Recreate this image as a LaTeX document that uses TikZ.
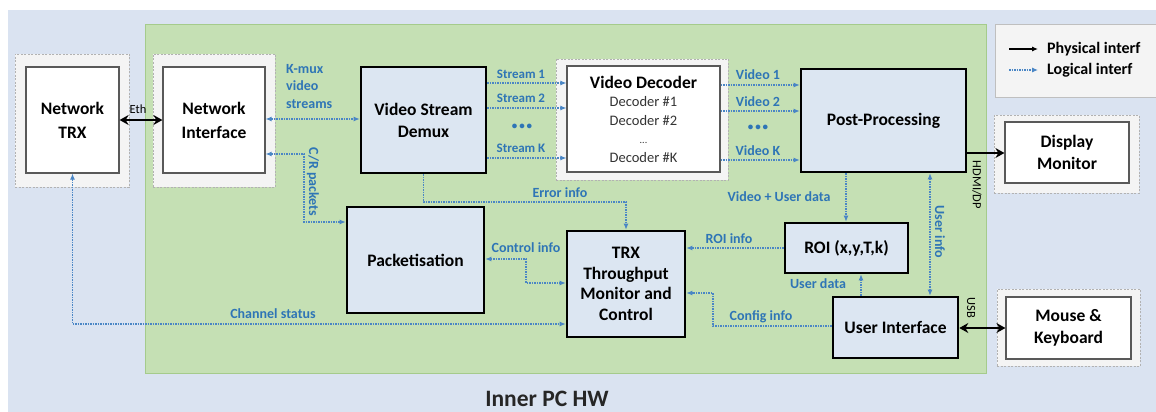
\documentclass[tikz,border=0pt]{standalone}
\usepackage{fontspec}
\setmainfont{Carlito}
\usetikzlibrary{arrows.meta}
\definecolor{bgblue}{HTML}{DAE3F1}
\definecolor{grn}{HTML}{C5E0B4}
\definecolor{grnline}{HTML}{A5CB8C}
\definecolor{boxblue}{HTML}{DCE6F2}
\definecolor{lblue}{HTML}{2E75B6}
\definecolor{ablue}{HTML}{4A86C5}
\definecolor{outerfill}{HTML}{F4F4F4}
\newcommand\bxfont{\fontsize{17.5}{22}\selectfont\bfseries}
\newcommand\lbfont{\fontsize{14}{17.5}\selectfont\bfseries}
\begin{document}
\begin{tikzpicture}[x=1pt,y=-1pt,
  outerbox/.style={draw=black!30, dash pattern=on 2pt off 1.5pt, fill=outerfill, line width=0.8pt, inner sep=0},
  innerbox/.style={draw=black!65, fill=white, line width=1.2pt, inner sep=0, align=center, font=\bxfont},
  thickbox/.style={draw=black, fill=boxblue, line width=2.6pt, inner sep=0, align=center, font=\bxfont},
  logic/.style={draw=ablue, line width=1.1pt, dash pattern=on 1.5pt off 1pt},
  phys/.style={draw=black, line width=2.6pt},
  lbl/.style={text=lblue, font=\lbfont, inner sep=0, align=left},
  dots/.style={text=lblue, font=\fontsize{11}{13}\selectfont\bfseries, inner sep=0},
  blk/.style={text=black, font=\fontsize{12.5}{14}\selectfont, inner sep=0}
]
\useasboundingbox (0,0) rectangle (1156,412);
\fill[white] (0,0) rectangle (1156,412);
\fill[bgblue] (8,10) rectangle (1156,412);
\draw[grnline, fill=grn, line width=0.8pt] (145,24) rectangle (986,373);

% legend
\node[draw=black!25, fill=outerfill, line width=0.8pt, minimum width=167pt, minimum height=73pt, inner sep=0] (legend) at (1078.5,60.5) {};
\coordinate (pa) at (1009,49);
\coordinate (pb) at (1038,49);
\coordinate (la) at (1009,70);
\coordinate (lb) at (1038,70);
\draw[line width=1.1pt, -{Latex[length=6pt,width=5pt]}] (pa) -- (pb);
\draw[logic, -{Latex[length=6pt,width=5pt]}] (la) -- (lb);
\node[anchor=west, font=\fontsize{16}{18}\selectfont\bfseries, inner sep=0] (lphys) at (1047,49) {Physical interf};
\node[anchor=west, font=\fontsize{16}{18}\selectfont\bfseries, inner sep=0] (llog) at (1047,70) {Logical interf};

% outer dashed boxes
\node[outerbox, minimum width=114pt, minimum height=133pt] (trxout) at (72,120.5) {};
\node[outerbox, minimum width=122pt, minimum height=133pt] (niout) at (214,120.5) {};
\node[outerbox, minimum width=172pt, minimum height=121pt] (vdout) at (642,119.5) {};
\node[outerbox, minimum width=145pt, minimum height=78pt] (dispout) at (1066.5,154) {};
\node[outerbox, minimum width=143pt, minimum height=77pt] (mkout) at (1068.5,327.5) {};

% inner white boxes
\node[innerbox, minimum width=93pt, minimum height=106pt, font=\fontsize{17.5}{24}\selectfont\bfseries] (trxin) at (72.5,120) {Network\\TRX};
\node[innerbox, minimum width=102pt, minimum height=106pt, font=\fontsize{17.5}{24}\selectfont\bfseries] (niin) at (214,120) {Network\\Interface};
\node[innerbox, minimum width=153pt, minimum height=106pt, font=\fontsize{14.5}{18.5}\selectfont, text=black!80] (vdin) at (643.5,119)
  {{\fontsize{17.5}{18.5}\selectfont\bfseries\color{black}Video Decoder}\\Decoder \#1\\Decoder \#2\\{\fontsize{10}{18.5}\selectfont ...}\\Decoder \#K};
\node[innerbox, minimum width=124pt, minimum height=61pt] (dispin) at (1067,152.5) {Display\\Monitor};
\node[innerbox, minimum width=125pt, minimum height=62pt] (mkin) at (1068.5,328) {Mouse \&\\Keyboard};

% thick blue boxes
\node[thickbox, minimum width=125pt, minimum height=106pt] (demux) at (423.5,120) {Video Stream\\Demux};
\node[thickbox, minimum width=165pt, minimum height=103pt] (pp) at (883.5,120.5) {Post-Processing};
\node[thickbox, minimum width=123pt, minimum height=50pt] (roi) at (846.5,248) {ROI (x,y,T,k)};
\node[thickbox, minimum width=125pt, minimum height=61pt] (ui) at (895.5,327.5) {User Interface};
\node[thickbox, minimum width=118pt, minimum height=106pt, font=\fontsize{17.5}{20.5}\selectfont\bfseries] (trx) at (626,284) {TRX\\Throughput\\Monitor and\\Control};
\node[thickbox, minimum width=137pt, minimum height=106pt] (pack) at (415.5,260) {Packetisation};

% physical connectors
\draw[phys, {Stealth[length=9pt,width=10pt]}-{Stealth[length=9pt,width=10pt]}] (trxin.east) -- (niin.west);
\draw[phys, -{Stealth[length=9pt,width=10pt]}] (pp.east |- 0,153) -- (dispin.west |- 0,153);
\draw[phys, {Stealth[length=9pt,width=10pt]}-{Stealth[length=9pt,width=10pt]}] (ui.east |- 0,328) -- (mkin.west |- 0,328);
\node[blk] (eth) at (138,109) {Eth};
\node[blk, rotate=-90] (hdmi) at (977,185) {HDMI/DP};
\node[blk, rotate=-90] (usb) at (971,308) {USB};

% logical connectors
\draw[logic, {Latex[length=6pt,width=5pt]}-{Latex[length=6pt,width=5pt]}] (niin.east |- 0,119) -- (demux.west |- 0,119);
\node[lbl, anchor=north west] (kmux) at (286,64) {K-mux\\video\\streams};

\draw[logic, {Latex[length=6pt,width=5pt]}-{Latex[length=6pt,width=5pt]}] (niin.east |- 0,154) -- (304,154) |- (pack.west |- 0,222);
\node[lbl, rotate=-90] (cr) at (313,182) {C/R packets};

\draw[logic, -{Latex[length=6pt,width=5pt]}] (demux.east |- 0,83) -- (vdin.west |- 0,83);
\draw[logic, -{Latex[length=6pt,width=5pt]}] (demux.east |- 0,108) -- (vdin.west |- 0,108);
\draw[logic, -{Latex[length=6pt,width=5pt]}] (demux.east |- 0,158) -- (vdin.west |- 0,158);
\node[lbl, font=\fontsize{13}{15}\selectfont\bfseries] (s1) at (521,74) {Stream 1};
\node[lbl, font=\fontsize{13}{15}\selectfont\bfseries] (s2) at (521,98) {Stream 2};
\node[dots] (sdots) at (522,127) {•\,•\,•};
\node[lbl, font=\fontsize{13}{15}\selectfont\bfseries] (sk) at (521,148) {Stream K};

\draw[logic, -{Latex[length=6pt,width=5pt]}] (vdin.east |- 0,85) -- (pp.west |- 0,85);
\draw[logic, -{Latex[length=6pt,width=5pt]}] (vdin.east |- 0,111) -- (pp.west |- 0,111);
\draw[logic, -{Latex[length=6pt,width=5pt]}] (vdin.east |- 0,160) -- (pp.west |- 0,160);
\node[lbl] (v1) at (758,75) {Video 1};
\node[lbl] (v2) at (758,102) {Video 2};
\node[dots] (vdots) at (758,128) {•\,•\,•};
\node[lbl] (vk) at (758,151) {Video K};

\draw[logic, -{Latex[length=6pt,width=5pt]}] (demux.south) |- (trx.north |- 0,202) -- (trx.north);
\node[lbl] (err) at (560,193) {Error info};

\draw[logic, -{Latex[length=6pt,width=5pt]}] (pp.south -| 846,0) -- (roi.north -| 846,0);
\node[lbl] (vud) at (779,197) {Video + User data};

\draw[logic, {Latex[length=6pt,width=5pt]}-{Latex[length=6pt,width=5pt]}] (pp.south -| 930,0) -- (ui.north -| 930,0);
\node[lbl, rotate=-90] (uinfo) at (940,232) {User info};

\draw[logic, -{Latex[length=6pt,width=5pt]}] (ui.north -| 861,0) -- (roi.south -| 861,0);
\node[lbl] (udata) at (818,284) {User data};

\draw[logic, -{Latex[length=6pt,width=5pt]}] (roi.west |- 0,248) -- (trx.east |- 0,248);
\node[lbl] (roiinfo) at (729,239) {ROI info};

\draw[logic, -{Latex[length=6pt,width=5pt]}] (ui.west |- 0,326) -- (713,326) |- (trx.east |- 0,293);
\node[lbl] (cfg) at (761,317) {Config info};

\draw[logic, {Latex[length=6pt,width=5pt]}-{Latex[length=6pt,width=5pt]}] (pack.east |- 0,259) -- (526,259) |- (trx.west |- 0,283);
\node[lbl] (ctrl) at (526,248) {Control info};

\draw[logic, {Latex[length=6pt,width=5pt]}-{Latex[length=6pt,width=5pt]}] (trxin.south) |- (trx.west |- 0,324);
\node[lbl] (chan) at (273,314) {Channel status};

\node[font=\fontsize{23.5}{28}\selectfont\bfseries, text=black!85, inner sep=0] (inner) at (547,398.5) {Inner PC HW};
\end{tikzpicture}
\end{document}
